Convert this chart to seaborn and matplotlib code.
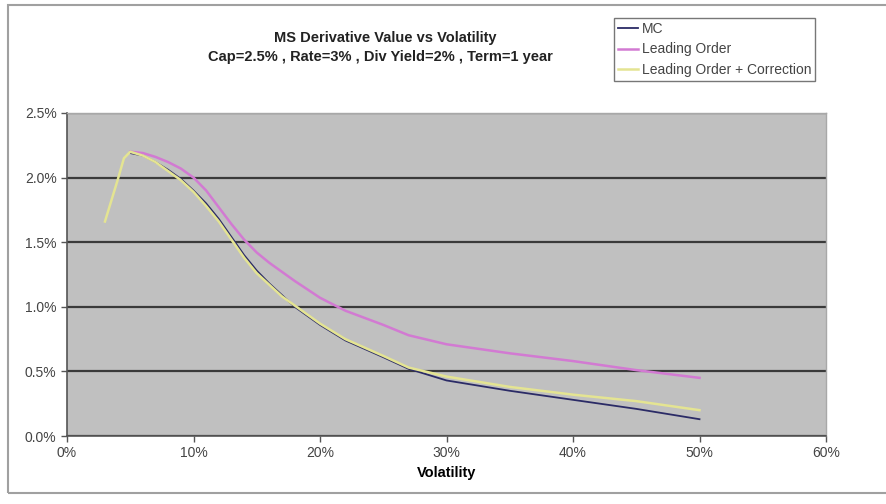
import matplotlib
matplotlib.use("Agg")
import matplotlib.pyplot as plt
import matplotlib.ticker as mticker
from matplotlib.patches import Rectangle
import pandas as pd
import seaborn as sns

# volatility (%) and derivative value (%)
vol = [5, 6, 7, 8, 9, 10, 11, 12, 13, 14, 15, 16, 17, 18, 20, 22, 25, 27, 30, 35, 40, 45, 50]
mc = [2.19, 2.17, 2.12, 2.06, 1.99, 1.90, 1.80, 1.68, 1.54, 1.40, 1.28, 1.18, 1.09, 1.00,
      0.86, 0.74, 0.61, 0.52, 0.43, 0.35, 0.28, 0.21, 0.13]
leading = [2.20, 2.19, 2.16, 2.12, 2.07, 2.00, 1.90, 1.77, 1.64, 1.52, 1.42, 1.34, 1.27, 1.20,
           1.07, 0.97, 0.86, 0.78, 0.71, 0.64, 0.58, 0.51, 0.45]

vol_corr = [3, 4, 4.5, 5, 6, 7, 8, 9, 10, 11, 12, 13, 14, 15, 16, 17, 18, 20, 22, 25, 27, 30,
            35, 40, 45, 50]
corrected = [1.66, 1.98, 2.15, 2.20, 2.17, 2.12, 2.05, 1.98, 1.89, 1.78, 1.66, 1.52, 1.38, 1.26,
             1.17, 1.08, 1.01, 0.87, 0.75, 0.62, 0.53, 0.46, 0.38, 0.32, 0.27, 0.20]

series_names = ["MC", "Leading Order", "Leading Order + Correction"]
colors = ["#2b2b66", "#d27ad2", "#e4e492"]
widths = [1.3, 1.8, 1.8]

plt.rcParams['font.family'] = ['Liberation Sans', 'DejaVu Sans']

fig = plt.figure(figsize=(8.86, 5.04), dpi=100)
W, H = 886, 504
ax = fig.add_axes([67 / W, (H - 436) / H, (826 - 67) / W, (436 - 113) / H])
ax.set_facecolor("#c0c0c0")

data = [
    pd.DataFrame({"vol": vol, "value": mc}),
    pd.DataFrame({"vol": vol, "value": leading}),
    pd.DataFrame({"vol": vol_corr, "value": corrected}),
]
for df, name, c, lw in zip(data, series_names, colors, widths):
    sns.lineplot(data=df, x="vol", y="value", ax=ax, color=c, linewidth=lw,
                 label=name, legend=False, zorder=3)

ax.set_xlim(0, 60)
ax.set_ylim(0, 2.5)
ax.set_xticks(range(0, 61, 10))
ax.set_yticks([0, 0.5, 1.0, 1.5, 2.0, 2.5])
ax.xaxis.set_major_formatter(mticker.FuncFormatter(lambda v, p: f"{v:.0f}%"))
ax.yaxis.set_major_formatter(mticker.FuncFormatter(lambda v, p: f"{v:.1f}%"))
ax.grid(axis="y", color="#3a3a3a", linewidth=1.6, zorder=1)
ax.grid(axis="x", visible=False)
ax.set_axisbelow(True)

for side in ["top", "right"]:
    ax.spines[side].set_color("#a8a8a8")
    ax.spines[side].set_linewidth(1.0)
ax.spines["left"].set_color("#555555")
ax.spines["bottom"].set_color("#555555")
ax.spines["left"].set_linewidth(1.2)
ax.spines["bottom"].set_linewidth(1.2)
ax.tick_params(axis="both", direction="out", length=4, width=1, color="#555555",
               labelsize=10, labelcolor="#444444")

ax.set_xlabel("Volatility", fontsize=10.5, fontweight="bold", labelpad=4)
ax.set_ylabel("")

fig.text(385 / W, 1 - 38 / H, "MS Derivative Value vs Volatility", ha="center", va="center",
         fontsize=10.5, fontweight="bold", color="#222222")
fig.text(380 / W, 1 - 57 / H, "Cap=2.5% , Rate=3% , Div Yield=2% , Term=1 year", ha="center",
         va="center", fontsize=10.5, fontweight="bold", color="#222222")

handles, labels = ax.get_legend_handles_labels()
leg = fig.legend(handles, labels, loc="upper left",
                 bbox_to_anchor=(614 / W, 1 - 18 / H), bbox_transform=fig.transFigure,
                 fontsize=10, frameon=True, fancybox=False, handlelength=1.4,
                 handletextpad=0.3, borderpad=0.3, labelspacing=0.45, borderaxespad=0)
leg.get_frame().set_edgecolor("#555555")
leg.get_frame().set_linewidth(1.0)
for t in leg.get_texts():
    t.set_color("#444444")

# outer chart border
fig.patches.append(Rectangle((8 / W, 1 - 493 / H), 1.0, (493 - 5) / H,
                             transform=fig.transFigure, fill=False,
                             edgecolor="#a0a0a0", linewidth=1.5))

fig.savefig("out.png", dpi=100)
